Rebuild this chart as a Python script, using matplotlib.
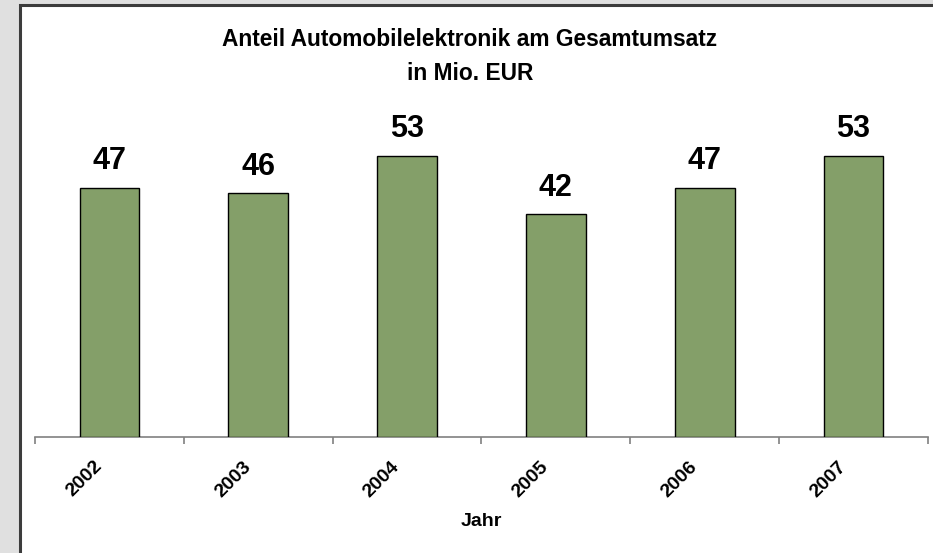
import matplotlib
matplotlib.use("Agg")
import matplotlib.pyplot as plt
import matplotlib.transforms as mtransforms
from matplotlib.patches import Rectangle
import numpy as np

years = ["2002", "2003", "2004", "2005", "2006", "2007"]
values = [47, 46, 53, 42, 47, 53]

plt.rcParams['font.family'] = ['Liberation Sans', 'DejaVu Sans']
plt.rcParams['font.weight'] = 'bold'

W, H = 933, 553
fig = plt.figure(figsize=(W / 100, H / 100), dpi=100)
fig.patch.set_facecolor('#e0e0e0')

# white chart area with dark frame (top and left edges visible)
frame = Rectangle((20 / W, -0.05), 1.0, 1 - 5 / H + 0.05, transform=fig.transFigure,
                  facecolor='white', edgecolor='#3c3c3c', linewidth=2.2, zorder=-5)
fig.patches.append(frame)

# axes placement in pixels
x0, x1 = 35, 928
y_base, y_top = 437, 119
ax = fig.add_axes([x0 / W, (H - y_base) / H, (x1 - x0) / W, (y_base - y_top) / H])
ax.set_zorder(2)
ax.set_facecolor('none')

x = np.arange(len(years))
bars = ax.bar(x, values, width=0.4, color='#849f69', edgecolor='black', linewidth=1.0, zorder=3)
ax.set_xlim(-0.5, len(years) - 0.5)
ax.set_ylim(0, 60)

for xi, v in zip(x, values):
    ax.annotate(str(v), (xi, v), xytext=(0, 8.4), textcoords='offset points',
                ha='center', va='bottom', fontsize=22, fontweight='bold')

for s in ['top', 'right', 'left']:
    ax.spines[s].set_visible(False)
ax.spines['bottom'].set_color('#808080')
ax.spines['bottom'].set_linewidth(1.2)
ax.set_yticks([])

# tick marks between categories
ax.set_xticks(np.arange(-0.5, len(years) + 0.5, 1.0))
ax.set_xticklabels([])
ax.tick_params(axis='x', direction='out', length=5, color='#808080', width=1.2)
ax.set_xticks(x, minor=True)
ax.set_xticklabels(years, minor=True, rotation=45, ha='right', va='top',
                   fontsize=14, fontweight='bold')
ax.tick_params(axis='x', which='minor', length=0, pad=15)
shift = mtransforms.ScaledTranslation(-4 / 100, 0, fig.dpi_scale_trans)
for lbl in ax.get_xticklabels(minor=True):
    lbl.set_transform(lbl.get_transform() + shift)

fig.text(481 / W, 1 - 522 / H, "Jahr", ha='center', va='center', fontsize=14, fontweight='bold')
fig.text(470 / W, 1 - 39 / H, "Anteil Automobilelektronik am Gesamtumsatz", ha='center', va='center',
         fontsize=16.4, fontweight='bold')
fig.text(470 / W, 1 - 73 / H, "in Mio. EUR", ha='center', va='center', fontsize=16.4, fontweight='bold')

fig.savefig("out.png", dpi=100)
